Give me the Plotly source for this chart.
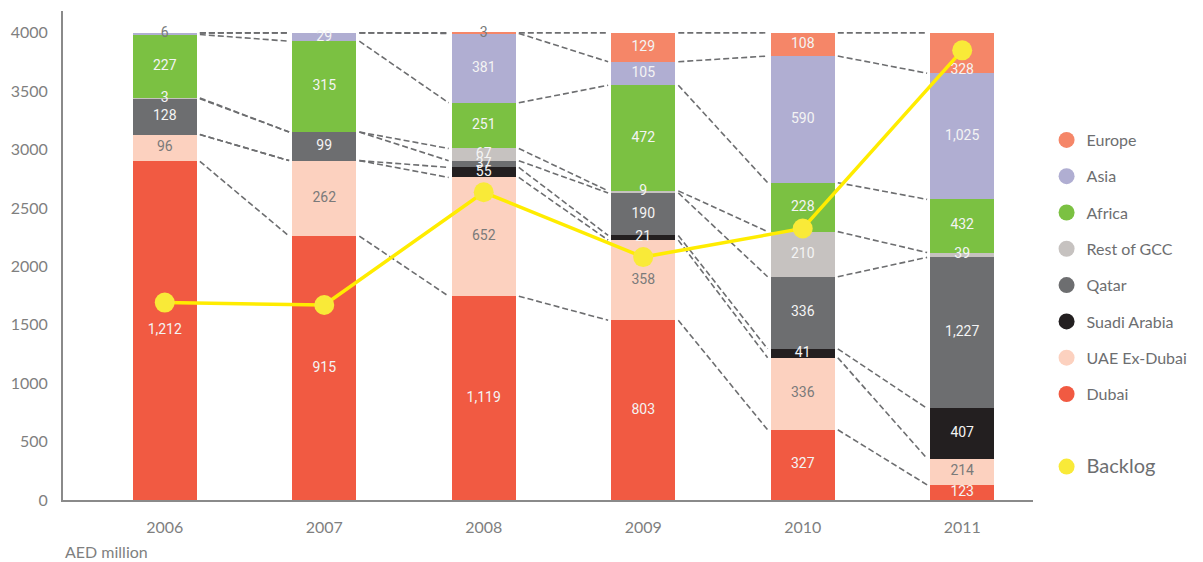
import plotly.graph_objects as go

# ---------------- data (AED million) ----------------
years = ["2006", "2007", "2008", "2009", "2010", "2011"]
dubai = [1212, 915, 1119, 803, 327, 123]
uae_ex_dubai = [96, 262, 652, 358, 336, 214]
saudi_arabia = [0, 0, 55, 21, 41, 407]
qatar = [128, 99, 37, 190, 336, 1227]
rest_of_gcc = [3, 0, 67, 9, 210, 39]
africa = [227, 315, 251, 472, 228, 432]
asia = [6, 29, 381, 105, 590, 1025]
europe = [0, 0, 3, 129, 108, 328]
backlog = [1690, 1670, 2635, 2080, 2325, 3850]
y_ticks = [0, 500, 1000, 1500, 2000, 2500, 3000, 3500, 4000]

# stacking order bottom -> top
series = [
    ("Dubai", dubai, "#F15A42"),
    ("UAE Ex-Dubai", uae_ex_dubai, "#FCD1BF"),
    ("Suadi Arabia", saudi_arabia, "#231F20"),
    ("Qatar", qatar, "#6D6E70"),
    ("Rest of GCC", rest_of_gcc, "#C6C2C0"),
    ("Africa", africa, "#7BC142"),
    ("Asia", asia, "#B0AED2"),
    ("Europe", europe, "#F58668"),
]

SCALE = 4000  # each bar is drawn as a share of a 4000 scale
BAR_W = 0.4
xs = list(range(len(years)))
totals = [sum(s[1][i] for s in series) for i in xs]

fig = go.Figure()

# normalised heights and cumulative tops
norm = {}
cum = []
running = [0.0] * len(xs)
for name, vals, col in series:
    h = [vals[i] / totals[i] * SCALE for i in xs]
    norm[name] = h
    running = [running[i] + h[i] for i in xs]
    cum.append(list(running))

# dashed connectors between segment boundaries
lx, ly = [], []
for k in range(len(series)):
    for i in xs[:-1]:
        lx += [i + BAR_W / 2 + 0.02, i + 1 - BAR_W / 2 - 0.02, None]
        ly += [cum[k][i], cum[k][i + 1], None]
fig.add_trace(go.Scatter(x=lx, y=ly, mode="lines", showlegend=False, hoverinfo="skip",
                         line=dict(color="#6D6E70", width=1.6, dash="6px,3px")))

# bars
for name, vals, col in series:
    fig.add_trace(go.Bar(x=xs, y=norm[name], width=BAR_W, marker=dict(color=col, line=dict(width=0)),
                         name=name, showlegend=False, customdata=vals,
                         hovertemplate=name + ": %{customdata:,}<extra></extra>"))

# segment labels (nudged away from a backlog marker if they would sit under it)
wx, wy, wt, gx, gy, gt = [], [], [], [], [], []
for k, (name, vals, col) in enumerate(series):
    for i in xs:
        if vals[i] == 0:
            continue
        base = cum[k][i] - norm[name][i]
        ymid = base + norm[name][i] / 2
        d = ymid - backlog[i]
        if abs(d) < 130:
            ymid = backlog[i] + (170 if d > 0 else -170)
        txt = f"{vals[i]:,}"
        gray = name == "UAE Ex-Dubai" or (name in ("Asia", "Europe") and vals[i] < 10)
        if gray:
            gx.append(i); gy.append(ymid); gt.append(txt)
        else:
            wx.append(i); wy.append(ymid); wt.append(txt)
fig.add_trace(go.Scatter(x=wx, y=wy, text=wt, mode="text", showlegend=False, hoverinfo="skip",
                         textfont=dict(family="Roboto", size=14, color="#F4F4F4")))
fig.add_trace(go.Scatter(x=gx, y=gy, text=gt, mode="text", showlegend=False, hoverinfo="skip",
                         textfont=dict(family="Roboto", size=14, color="#7A7A7A")))

# backlog line
fig.add_trace(go.Scatter(x=xs, y=backlog, mode="lines+markers", showlegend=False, name="Backlog",
                         line=dict(color="#FFEC00", width=3.5),
                         marker=dict(size=20, color="#F9EA38")))

# legend entries
rank = 1
for name, vals, col in reversed(series):
    fig.add_trace(go.Scatter(x=[None], y=[None], mode="markers", name=name, legendgroup=name,
                             legendrank=rank, marker=dict(size=22, color=col)))
    rank += 1
fig.add_trace(go.Scatter(x=[None], y=[None], mode="markers", name=" ", legendgroup="spacer",
                         legendrank=rank, marker=dict(size=22, color="rgba(0,0,0,0)"), hoverinfo="skip"))
rank += 1
fig.add_trace(go.Scatter(x=[None], y=[None], mode="markers",
                         name='<span style="font-size:20px">Backlog</span>', legendgroup="backlog",
                         legendrank=rank, marker=dict(size=22, color="#F9EA38")))

fig.update_layout(
    width=1203, height=562,
    margin=dict(l=53, r=178, t=3, b=70),
    paper_bgcolor="white", plot_bgcolor="white",
    barmode="stack", bargap=0,
    font=dict(family="Lato", color="#7F7F7F"),
    showlegend=True,
    legend=dict(x=1.014, xanchor="left", y=0.771, yanchor="top", traceorder="grouped",
                tracegroupgap=12.5, font=dict(family="Lato", size=16, color="#6D6E70"),
                bgcolor="rgba(0,0,0,0)", itemclick=False),
    xaxis=dict(range=[-0.638, 5.444], tickvals=xs, ticktext=years, showline=True,
               linecolor="#8A8A8A", linewidth=2, showgrid=False, zeroline=False, ticks="",
               tickfont=dict(family="Lato", size=16, color="#7F7F7F"), ticklabelstandoff=12),
    yaxis=dict(range=[0, 4187], tickvals=y_ticks, showline=True, linecolor="#8A8A8A",
               linewidth=2, showgrid=False, zeroline=False, ticks="",
               tickfont=dict(family="Lato", size=16, color="#7F7F7F"), ticklabelstandoff=10),
    annotations=[dict(text="AED million", xref="paper", yref="paper", x=0, y=-0.106,
                      xanchor="left", yanchor="middle", showarrow=False,
                      font=dict(family="Lato", size=16, color="#7F7F7F"))],
)

fig.write_html("out.html")
